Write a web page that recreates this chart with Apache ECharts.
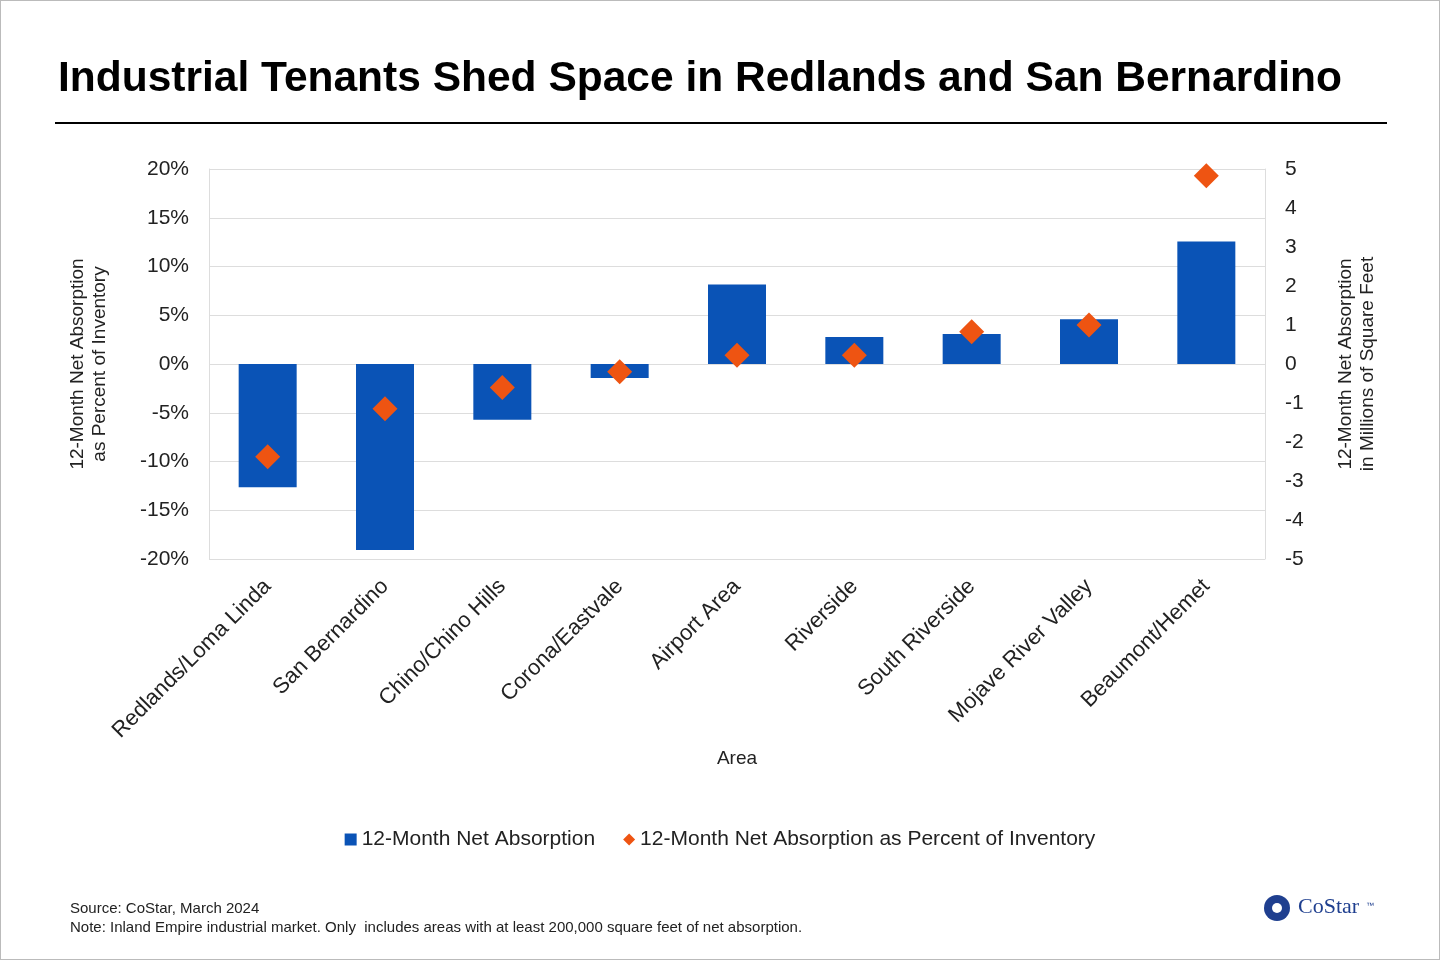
<!DOCTYPE html>
<html><head><meta charset="utf-8">
<script src="https://cdn.jsdelivr.net/npm/echarts@6/dist/echarts.min.js"></script>
<style>html,body{margin:0;padding:0;background:#fff}#main{width:1440px;height:960px;box-sizing:border-box;border:1px solid #bbb}</style>
</head><body><div id="main"></div>
<script>
var areas = ['Redlands/Loma Linda','San Bernardino','Chino/Chino Hills','Corona/Eastvale','Airport Area','Riverside','South Riverside','Mojave River Valley','Beaumont/Hemet'];
// millions of square feet
var absorption = [-3.16, -4.77, -1.43, -0.36, 2.04, 0.69, 0.77, 1.15, 3.14];
// percent of inventory
var pctInventory = [-9.5, -4.6, -2.4, -0.8, 0.9, 0.9, 3.3, 4.0, 19.3];

var chart = echarts.init(document.getElementById('main'));
var font = 'Arial, "Liberation Sans", sans-serif';
chart.setOption({
  textStyle: {fontFamily: font},
  title: {text: 'Industrial Tenants Shed Space in Redlands and San Bernardino', left: 52, top: 52,
    textStyle: {fontSize: 42.5, fontWeight: 'bold', color: '#000', fontFamily: font}},
  graphic: [
    {type: 'line', shape: {x1: 54, y1: 122, x2: 1386, y2: 122}, style: {stroke: '#000', lineWidth: 2}},
    {type: 'text', left: 69, top: 898, style: {text: 'Source: CoStar, March 2024\nNote: Inland Empire industrial market. Only  includes areas with at least 200,000 square feet of net absorption.', font: '15px ' + font, fill: '#222', lineHeight: 19}},
    {type: 'circle', shape: {cx: 1276, cy: 907, r: 13}, style: {fill: '#1f3f8f'}},
    {type: 'circle', shape: {cx: 1276, cy: 907, r: 5}, style: {fill: '#fff'}},
    {type: 'text', left: 1297, top: 895, style: {text: 'CoStar', font: '22px "Liberation Serif", serif', fill: '#1f3f8f'}},
    {type: 'text', left: 1365, top: 901, style: {text: '™', font: '8px ' + font, fill: '#1f3f8f'}}
  ],
  legend: {bottom: 104, itemGap: 28, itemWidth: 12, itemHeight: 12,
    textStyle: {fontSize: 21, color: '#222'},
    data: [{name: '12-Month Net Absorption', icon: 'rect'}, {name: '12-Month Net Absorption as Percent of Inventory', icon: 'diamond'}]},
  grid: {left: 208, right: 174, top: 168, bottom: 400},
  xAxis: {type: 'category', data: areas, name: 'Area', nameLocation: 'middle', nameGap: 190,
    nameTextStyle: {fontSize: 19, color: '#222'},
    axisLine: {show: false}, axisTick: {show: false},
    axisLabel: {rotate: 45, fontSize: 22, color: '#222', interval: 0, margin: 24}},
  yAxis: [
    {type: 'value', min: -20, max: 20, interval: 5, position: 'left',
      name: '12-Month Net Absorption\nas Percent of Inventory', nameLocation: 'middle', nameGap: 98, nameRotate: 90,
      nameTextStyle: {fontSize: 19, color: '#222', lineHeight: 22},
      axisLabel: {formatter: '{value}%', fontSize: 21, color: '#222', margin: 20},
      axisLine: {show: true, lineStyle: {color: '#ddd'}},
      splitLine: {lineStyle: {color: '#ddd'}}},
    {type: 'value', min: -5, max: 5, interval: 1, position: 'right',
      name: '12-Month Net Absorption\nin Millions of Square Feet', nameLocation: 'middle', nameGap: 70, nameRotate: 90,
      nameTextStyle: {fontSize: 19, color: '#222', lineHeight: 22},
      axisLabel: {fontSize: 21, color: '#222', margin: 20},
      axisLine: {show: true, lineStyle: {color: '#ddd'}},
      splitLine: {show: false}}
  ],
  series: [
    {name: '12-Month Net Absorption', type: 'bar', yAxisIndex: 1, data: absorption,
      barWidth: 58, itemStyle: {color: '#0a53b6'}},
    {name: '12-Month Net Absorption as Percent of Inventory', type: 'scatter', yAxisIndex: 0, data: pctInventory,
      symbol: 'diamond', symbolSize: [25, 25], itemStyle: {color: '#ee5412', opacity: 1}, z: 5}
  ]
});
</script></body></html>
